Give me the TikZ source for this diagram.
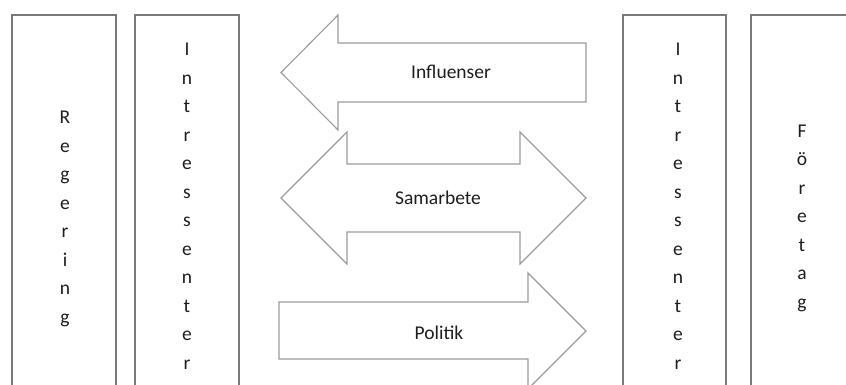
\documentclass[tikz,border=0pt]{standalone}
\usepackage{fontspec}
\setmainfont{Carlito}
\definecolor{boxline}{HTML}{7A7A7A}
\definecolor{arrline}{HTML}{9C9C9C}
\definecolor{txt}{HTML}{1E1E1E}
\begin{document}
\begin{tikzpicture}[x=1pt,y=-1pt,
  colbox/.style={draw=boxline,line width=1.1pt},
  arrshape/.style={draw=arrline,line width=1.1pt,line join=miter},
  vtext/.style={text=txt,align=center,inner sep=0pt,font=\fontsize{19.5}{28.5}\selectfont},
  htext/.style={text=txt,inner sep=0pt,font=\fontsize{19.5}{23}\selectfont}]
\useasboundingbox (0,0) rectangle (846,385);
\fill[white] (0,0) rectangle (846,385);
\begin{scope}
\clip (0,0) rectangle (846,385);
% boxes
\draw[colbox] (12,400) -- (12,15) -- (116,15) -- (116,400);
\draw[colbox] (135,400) -- (135,15) -- (239,15) -- (239,400);
\draw[colbox] (623,400) -- (623,15) -- (726,15) -- (726,400);
\draw[colbox] (751,400) -- (751,15) -- (860,15);
% Influenser arrow (left)
\draw[arrshape] (586,43) -- (338,43) -- (338,15) -- (281,72.5) -- (338,130) -- (338,102) -- (586,102) -- cycle;
% Samarbete double arrow
\draw[arrshape] (281,198) -- (347,132) -- (347,164) -- (520,164) -- (520,132) -- (586,198) -- (520,264) -- (520,232) -- (347,232) -- (347,264) -- cycle;
% Politik arrow (right)
\draw[arrshape] (279,302) -- (528,302) -- (528,273) -- (586,331) -- (528,389) -- (528,359) -- (279,359) -- cycle;
\end{scope}
% texts
\node[vtext] (reg) at (65,219) {R\\e\\g\\e\\r\\i\\n\\g};
\node[vtext] (intl) at (187,206) {I\\n\\t\\r\\e\\s\\s\\e\\n\\t\\e\\r};
\node[vtext] (intr) at (678,206) {I\\n\\t\\r\\e\\s\\s\\e\\n\\t\\e\\r};
\node[vtext] (for) at (802,218) {F\\ö\\r\\e\\t\\a\\g};
\node[htext] (infl) at (451,72) {Influenser};
\node[htext] (sam) at (438,198) {Samarbete};
\node[htext] (pol) at (439,333) {Politik};
\end{tikzpicture}
\end{document}
